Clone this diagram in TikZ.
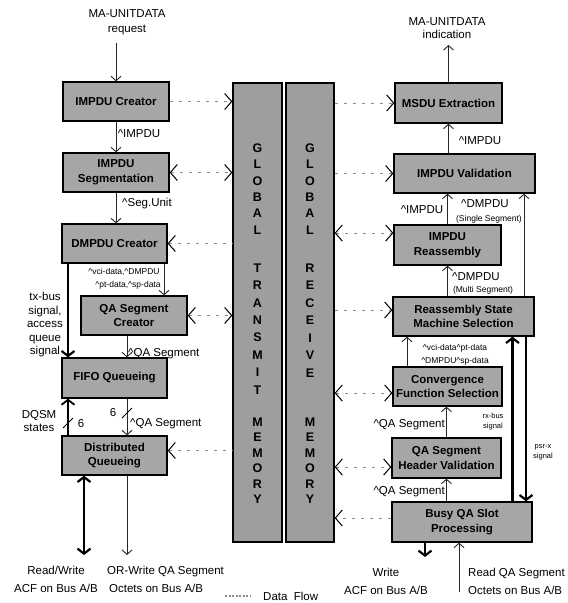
\documentclass[tikz,border=0pt]{standalone}
\usepackage{fontspec}
\setmainfont{Liberation Sans}
\usetikzlibrary{arrows.meta,calc}
\tikzset{
  box/.style={draw=black, line width=1.3pt, fill=black!35, inner sep=0pt, align=center, font=\bfseries\fontsize{11.5}{14.5}\selectfont},
  mem/.style={draw=black, line width=1.3pt, fill=black!38, inner sep=0pt},
  memlet/.style={font=\bfseries\fontsize{12.5}{12}\selectfont, inner sep=0pt},
  lbl/.style={font=\fontsize{11.5}{15}\selectfont, inner sep=0pt, align=center},
  slbl/.style={font=\fontsize{8.5}{10}\selectfont, inner sep=0pt, align=center},
  tlbl/.style={font=\fontsize{7.5}{10}\selectfont, inner sep=0pt, align=center},
  arr/.style={draw=black!85, line width=0.9pt, -{Straight Barb[length=4.5pt,width=10pt]}},
  thk/.style={draw=black, line width=2.2pt, -{Straight Barb[length=5pt,width=13pt]}},
  dthk/.style={draw=black, line width=2.2pt, {Straight Barb[length=5pt,width=13pt]}-{Straight Barb[length=5pt,width=13pt]}},
  dsh/.style={draw=black!45, line width=0.8pt, dash pattern=on 3pt off 6pt},
  dR/.style={dsh, -{Straight Barb[length=7pt,width=16pt,color=black,line width=1pt]}},
  dL/.style={dsh, {Straight Barb[length=7pt,width=16pt,color=black,line width=1pt]}-},
  dB/.style={dsh, {Straight Barb[length=7pt,width=16pt,color=black,line width=1pt]}-{Straight Barb[length=7pt,width=16pt,color=black,line width=1pt]}},
  slash/.style={draw=black, line width=0.9pt},
}
\begin{document}
\begin{tikzpicture}[x=1pt,y=-1pt]
\useasboundingbox (0,0) rectangle (568,603);

% ---------- memory columns ----------
\node[mem, minimum width=49pt, minimum height=459pt] (mt) at (257.5,312.5) {};
\node[mem, minimum width=48pt, minimum height=459pt] (mr) at (310,312.5) {};
\foreach \l/\y [count=\i] in {G/148,L/164.4,O/180.8,B/197.2,A/213.6,L/230,T/268,R/285.4,A/302.8,N/320.2,S/337.6,M/355,I/372.4,T/389.8,M/422,E/437.5,M/453,O/468.5,R/484,Y/499.5}
  \node[memlet] (tl\i) at (257.5,\y) {\l};
\foreach \l/\y [count=\i] in {G/148,L/164.4,O/180.8,B/197.2,A/213.6,L/230,R/268,E/285.5,C/303,E/320.5,I/338,V/355.5,E/373,M/422,E/437.5,M/453,O/468.5,R/484,Y/499.5}
  \node[memlet] (rl\i) at (310,\y) {\l};

% ---------- left (transmit) boxes ----------
\node[box, minimum width=106pt, minimum height=39pt] (c1) at (116,101.5) {IMPDU Creator};
\node[box, minimum width=106pt, minimum height=39pt] (c2) at (116,172.5) {IMPDU\\Segmentation};
\node[box, minimum width=105pt, minimum height=39pt] (c3) at (114.5,243.5) {DMPDU Creator};
\node[box, minimum width=106pt, minimum height=39pt] (c4) at (134,315.5) {QA Segment\\Creator};
\node[box, minimum width=105pt, minimum height=40pt] (c5) at (114.5,378) {FIFO Queueing};
\node[box, minimum width=105pt, minimum height=39pt] (c6) at (114.5,455.5) {Distributed\\Queueing};

% ---------- right (receive) boxes ----------
\node[box, minimum width=107pt, minimum height=40pt] (r1) at (448.5,103) {MSDU Extraction};
\node[box, minimum width=141pt, minimum height=39pt] (r2) at (464.5,173.5) {IMPDU Validation};
\node[box, minimum width=107pt, minimum height=40pt] (r3) at (447.5,245) {IMPDU\\Reassembly};
\node[box, minimum width=141pt, minimum height=39pt] (r4) at (463.5,316.5) {Reassembly State\\Machine Selection};
\node[box, minimum width=109pt, minimum height=39pt] (r5) at (447.5,386.5) {Convergence\\Function Selection};
\node[box, minimum width=109pt, minimum height=40pt] (r6) at (446.5,458) {QA Segment\\Header Validation};
\node[box, minimum width=140pt, minimum height=40pt] (r7) at (462,522) {Busy QA Slot\\Processing};

% ---------- left flow ----------
\node[lbl] (req) at (127,22.5) {MA-UNITDATA\\request};
\coordinate (reqpt) at (116,43);
\draw[arr] (reqpt) -- (c1.north);

\draw[arr] (c1.south) -- (c2.north);
\node[lbl] (l1) at (139,134) {\textasciicircum IMPDU};

\draw[arr] (c2.south) -- (c2.south |- c3.north);
\node[lbl] (l2) at (147,204) {\textasciicircum Seg.Unit};

\coordinate (c3a) at ($(c3.south)+(49.5,0)$);
\draw[arr] (c3a) -- (c3a |- c4.north);
\node[slbl] (l3) at (124,272) {\textasciicircum vci-data,\textasciicircum DMPDU};
\node[slbl] (l4) at (128,285) {\textasciicircum pt-data,\textasciicircum sp-data};

\coordinate (c3b) at ($(c3.south)+(-46.5,0)$);
\draw[thk] (c3b) -- (c3b |- c5.north);
\node[lbl, font=\fontsize{11.5}{13.5}\selectfont] (l5) at (45,325) {tx-bus\\signal,\\access\\queue\\signal};

\coordinate (c4a) at ($(c4.south)+(-7,0)$);
\draw[arr] (c4a) -- (c4a |- c5.north);
\node[lbl, anchor=west] (l6) at (128,354) {\textasciicircum QA Segment};

\coordinate (c6a) at ($(c6.north)+(-46.5,0)$);
\draw[thk, line width=1.8pt] (c6a) -- (c6a |- c5.south);
\draw[slash] (63,428) -- (73,418);
\node[lbl, font=\fontsize{11.5}{13}\selectfont] (l7) at (39,421.5) {DQSM\\states};
\node[lbl] (l8) at (81,424) {6};

\coordinate (c5a) at ($(c5.south)+(12.5,0)$);
\draw[arr] (c5a) -- (c5a |- c6.north);
\draw[slash] (122,418) -- (132,408);
\node[lbl] (l9) at (113,413) {6};
\node[lbl, anchor=west] (l10) at (130,424) {\textasciicircum QA Segment};

\coordinate (c6b) at ($(c6.south)+(-30.5,0)$);
\coordinate (rw) at (84,555);
\draw[dthk] (c6b) -- (rw);
\coordinate (c6c) at ($(c6.south)+(12.5,0)$);
\coordinate (orw) at (127,555);
\draw[arr] (c6c) -- (orw);
\node[lbl, font=\fontsize{11.5}{18}\selectfont] (l11) at (56,579) {Read/Write\\ACF on Bus A/B};
\node[lbl, anchor=west, align=left, font=\fontsize{11.5}{18}\selectfont] (l12) at (107,579) {OR-Write QA Segment\\\,Octets on Bus A/B};

% legend
\coordinate (legA) at (225,596);
\coordinate (legB) at (250,596);
\draw[dsh, dash pattern=on 2pt off 1.5pt, line width=1.5pt] (legA) -- (legB);
\node[lbl, anchor=west] (leg) at (263,596) {Data\ \ Flow};

% ---------- left dashed connectors ----------
\draw[dR] (c1.east) -- (c1.east -| mt.west);
\draw[dB] (c2.east) -- (c2.east -| mt.west);
\draw[dL] (c3.east) -- (c3.east -| mt.west);
\draw[dB] (c4.east) -- (c4.east -| mt.west);
\coordinate (c6e) at ([yshift=5pt]c6.east);
\draw[dL] (c6e) -- (c6e -| mt.west);

% ---------- right flow ----------
\coordinate (ind) at (448.5,45);
\draw[arr] (r1.north) -- (ind);
\node[lbl, font=\fontsize{11.5}{13.5}\selectfont] (l20) at (447,28) {MA-UNITDATA\\indication};

\draw[arr] (r1.south |- r2.north) -- (r1.south);
\node[lbl] (l21) at (480,141) {\textasciicircum IMPDU};

\draw[arr] (r3.north) -- (r3.north |- r2.south);
\node[lbl] (l22) at (422,210) {\textasciicircum IMPDU};

\coordinate (r4a) at ($(r4.north)+(60.5,0)$);
\draw[arr] (r4a) -- (r4a |- r2.south);
\node[lbl] (l23) at (485,204) {\textasciicircum DMPDU};
\node[slbl] (l24) at (489,219) {(Single Segment)};

\draw[arr] (r3.south |- r4.north) -- (r3.south);
\node[lbl] (l25) at (476,277) {\textasciicircum DMPDU};
\node[slbl] (l26) at (483,290) {(Multi Segment)};

\coordinate (r5a) at ($(r5.north)+(-40.5,0)$);
\draw[arr] (r5a) -- (r5a |- r4.south);
\node[slbl] (l27) at (455,348) {\textasciicircum vci-data\textasciicircum pt-data};
\node[slbl] (l28) at (455,361) {\textasciicircum DMPDU\textasciicircum sp-data};

\draw[arr] (r6.north) -- (r6.north |- r5.south);
\node[lbl, anchor=east] (l29) at (445,425) {\textasciicircum QA Segment};

\draw[arr] (r6.south |- r7.north) -- (r6.south);
\node[lbl, anchor=east] (l30) at (445,492) {\textasciicircum QA Segment};

\coordinate (r7a) at ($(r7.north)+(50.5,0)$);
\draw[thk] (r7a) -- (r7a |- r4.south);
\coordinate (r4b) at ($(r4.south)+(62.5,0)$);
\draw[thk] (r4b) -- (r4b |- r7.north);
\node[tlbl] (l31) at (493,422) {rx-bus\\signal};
\node[tlbl] (l32) at (543,452) {psr-x\\signal};

\coordinate (r7b) at ($(r7.south)+(-37,0)$);
\coordinate (wr) at (425,557);
\draw[thk] (r7b) -- (wr);
\coordinate (r7c) at ($(r7.south)+(-3,0)$);
\coordinate (rd) at (459,592);
\draw[arr] (rd) -- (r7c);
\node[lbl, font=\fontsize{11.5}{18}\selectfont] (l33) at (386,581) {Write\\ACF on Bus A/B};
\node[lbl, anchor=west, align=left, font=\fontsize{11.5}{18}\selectfont] (l34) at (468,581) {Read QA Segment\\Octets on Bus A/B};

% ---------- right dashed connectors ----------
\draw[dR] (r1.west -| mr.east) -- (r1.west);
\draw[dR] (r2.west -| mr.east) -- (r2.west);
\coordinate (r3w) at ([yshift=12pt]r3.west);
\draw[dB] (r3w -| mr.east) -- (r3w);
\coordinate (r4w) at ([yshift=6.5pt]r4.west);
\draw[dR] (r4w -| mr.east) -- (r4w);
\coordinate (r5w) at ([yshift=-6.5pt]r5.west);
\draw[dB] (r5w -| mr.east) -- (r5w);
\coordinate (r6w) at ([yshift=-9pt]r6.west);
\draw[dB] (r6w -| mr.east) -- (r6w);
\coordinate (r7w) at ([yshift=4pt]r7.west);
\draw[dR] (r7w) -- (r7w -| mr.east);
\end{tikzpicture}
\end{document}
